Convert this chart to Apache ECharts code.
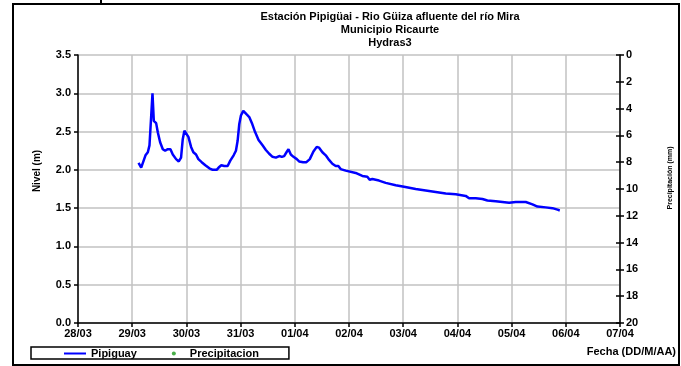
<!DOCTYPE html>
<html>
<head>
<meta charset="utf-8">
<script src="https://cdn.jsdelivr.net/npm/echarts@6/dist/echarts.min.js"></script>
<style>
  html, body { margin: 0; padding: 0; background: #fff; }
  #chart { width: 681px; height: 366px; }
</style>
</head>
<body>
<div id="chart"></div>
<script>
// Hydras3 station readings, Pipigüai (Río Güiza)
var YEAR = 2012;
var times = [
  '03-29 02:48','03-29 03:59','03-29 04:52','03-29 05:53','03-29 06:55','03-29 07:39',
  '03-29 08:23','03-29 08:59','03-29 09:34','03-29 10:36','03-29 11:20','03-29 12:22',
  '03-29 13:33','03-29 14:35','03-29 15:45','03-29 16:56','03-29 17:58','03-29 19:26',
  '03-29 20:37','03-29 21:38','03-29 22:23','03-29 23:07','03-29 23:51','03-30 00:53',
  '03-30 02:04','03-30 03:05','03-30 04:16','03-30 05:18','03-30 06:46','03-30 08:23',
  '03-30 10:10','03-30 11:38','03-30 13:24','03-30 14:17','03-30 15:28','03-30 16:47',
  '03-30 18:16','03-30 19:26','03-30 20:55','03-30 21:56','03-30 22:41','03-30 23:25',
  '03-31 00:09','03-31 01:11','03-31 02:04','03-31 02:48','03-31 03:50','03-31 05:01',
  '03-31 06:20','03-31 07:57','03-31 09:43','03-31 11:11','03-31 12:40','03-31 14:08',
  '03-31 15:37','03-31 17:05','03-31 18:16','03-31 19:17','03-31 20:19','03-31 21:12',
  '03-31 22:14','03-31 23:25','04-01 00:53','04-01 01:55','04-01 03:41','04-01 05:09',
  '04-01 06:38','04-01 08:15','04-01 09:43','04-01 10:45','04-01 12:13','04-01 13:42',
  '04-01 15:10','04-01 16:38','04-01 18:07','04-01 19:17','04-01 20:19','04-01 22:32',
  '04-02 02:57','04-02 05:54','04-02 08:07','04-02 09:09','04-02 10:20','04-02 13:17',
  '04-02 16:15','04-02 20:41','04-03 00:22','04-03 01:06','04-03 05:32','04-03 09:58',
  '04-03 14:24','04-03 18:50','04-03 23:16','04-04 03:41','04-04 05:10','04-04 08:07',
  '04-04 11:05','04-04 13:17','04-04 16:59','04-04 19:56','04-04 22:53','04-05 01:51',
  '04-05 06:17','04-05 09:14','04-05 11:27','04-05 15:08','04-05 18:05','04-05 20:19',
  '04-05 21:20'
];
var nivel = [
  2.09,2.03,2.05,2.19,2.23,2.32,
  2.69,3.00,2.64,2.61,2.49,2.36,
  2.27,2.25,2.27,2.27,2.20,2.14,
  2.11,2.16,2.40,2.51,2.53,2.43,
  2.30,2.23,2.20,2.14,2.10,2.06,
  2.02,2.00,2.00,2.03,2.06,2.05,
  2.05,2.12,2.19,2.25,2.38,2.60,
  2.71,2.77,2.78,2.72,2.69,2.61,
  2.50,2.39,2.32,2.26,2.21,2.17,
  2.16,2.18,2.17,2.18,2.23,2.27,
  2.20,2.17,2.14,2.11,2.10,2.10,
  2.14,2.24,2.30,2.29,2.23,2.19,
  2.13,2.08,2.05,2.05,2.01,1.99,
  1.96,1.92,1.91,1.87,1.88,1.86,
  1.83,1.80,1.78,1.77,1.75,1.73,
  1.71,1.69,1.68,1.66,1.63,1.63,
  1.62,1.60,1.59,1.58,1.57,1.58,
  1.58,1.55,1.52,1.51,1.50,1.48,
  1.47
];
// No rainfall was logged in this period
var precipitacion = [];

var titleLines = ['Estación Pipigüai - Rio Güiza afluente del río Mira', 'Municipio Ricaurte', 'Hydras3'];
var seriesNames = ['Pipiguay', 'Precipitacion'];
var xStart = '03-28', xEnd = '04-07';
var levelMin = 0, levelMax = 3.5, levelStep = 0.5;
var rainMin = 0, rainMax = 20, rainStep = 2;

var DAY = 86400000;
function toMs(s) {
  var md = s.split(' ')[0].split('-');
  var hm = (s.split(' ')[1] || '00:00').split(':');
  return Date.UTC(YEAR, +md[0] - 1, +md[1], +hm[0], +hm[1]);
}
function pad(n) { return (n < 10 ? '0' : '') + n; }

var levelData = times.map(function (t, i) { return [toMs(t), nivel[i]]; });

var FONT = 'Liberation Sans, Arial, sans-serif';
var labelStyle = { color: '#000', fontFamily: FONT, fontSize: 11, fontWeight: 'bold' };

var chart = echarts.init(document.getElementById('chart'), null, { renderer: 'canvas' });
chart.setOption({
  animation: false,
  backgroundColor: '#fff',
  grid: { left: 78, right: 61, top: 55, bottom: 43, containLabel: false },
  xAxis: {
    type: 'value',
    min: toMs(xStart),
    max: toMs(xEnd),
    interval: DAY,
    axisLine: { lineStyle: { color: '#000', width: 1.5 } },
    axisTick: { show: true, length: 4, lineStyle: { color: '#000', width: 1.5 } },
    axisLabel: Object.assign({
      margin: 5,
      formatter: function (v) {
        var d = new Date(v);
        return pad(d.getUTCDate()) + '/' + pad(d.getUTCMonth() + 1);
      }
    }, labelStyle),
    splitLine: { show: true, lineStyle: { color: '#c2c2c2', width: 1.5 } }
  },
  yAxis: [
    {
      type: 'value',
      min: levelMin, max: levelMax, interval: levelStep,
      position: 'left',
      axisLine: { show: true, lineStyle: { color: '#000', width: 1.5 } },
      axisTick: { show: true, length: 4, lineStyle: { color: '#000', width: 1.5 } },
      axisLabel: Object.assign({ margin: 7, formatter: function (v) { return v.toFixed(1); } }, labelStyle),
      splitLine: { show: true, lineStyle: { color: '#c2c2c2', width: 1.5 } }
    },
    {
      type: 'value',
      min: rainMin, max: rainMax, interval: rainStep,
      inverse: true,
      position: 'right',
      axisLine: { show: true, lineStyle: { color: '#000', width: 1.5 } },
      axisTick: { show: true, length: 4, lineStyle: { color: '#000', width: 1.5 } },
      axisLabel: Object.assign({ margin: 6 }, labelStyle),
      splitLine: { show: false }
    },
    {
      // inner half of the right-hand tick marks
      type: 'value',
      min: rainMin, max: rainMax, interval: rainStep,
      inverse: true,
      position: 'right',
      axisLine: { show: false },
      axisTick: { show: true, inside: true, length: 4, lineStyle: { color: '#000', width: 1.5 } },
      axisLabel: { show: false },
      splitLine: { show: false }
    }
  ],
  legend: {
    left: 31,
    top: 347,
    orient: 'horizontal',
    padding: [1, 30, 0, 32],
    itemGap: 35,
    itemWidth: 22,
    itemHeight: 4,
    borderColor: '#000',
    borderWidth: 1.5,
    textStyle: { color: '#000', fontFamily: FONT, fontSize: 11, fontWeight: 'bold' },
    data: [
      { name: seriesNames[0], itemStyle: { opacity: 0 } },
      { name: seriesNames[1] }
    ]
  },
  series: [
    {
      name: seriesNames[0],
      type: 'line',
      yAxisIndex: 0,
      data: levelData,
      showSymbol: false,
      symbol: 'none',
      lineStyle: { color: '#0000ff', width: 2.5 },
      itemStyle: { color: '#0000ff' }
    },
    {
      name: seriesNames[1],
      type: 'scatter',
      yAxisIndex: 1,
      data: precipitacion,
      symbol: 'circle',
      symbolSize: 4,
      itemStyle: { color: '#1a9a1a' }
    }
  ],
  graphic: [
    { type: 'rect', shape: { x: 13, y: 4, width: 666, height: 361 }, style: { fill: 'none', stroke: '#000', lineWidth: 2 }, silent: true },
    { type: 'line', shape: { x1: 101, y1: 0, x2: 101, y2: 4 }, style: { stroke: '#000', lineWidth: 2 }, silent: true },
    { type: 'text', x: 390, y: 10, style: { text: titleLines.join('\n'), textAlign: 'center', fill: '#000', font: 'bold 11px ' + FONT, lineHeight: 13 } },
    { type: 'text', x: 37, y: 171, rotation: Math.PI / 2, style: { text: 'Nivel (m)', textAlign: 'center', textVerticalAlign: 'middle', fill: '#000', font: 'bold 10px ' + FONT } },
    { type: 'text', x: 670, y: 178, rotation: Math.PI / 2, style: { text: 'Precipitación (mm)', textAlign: 'center', textVerticalAlign: 'middle', fill: '#000', font: 'bold 7px ' + FONT } },
    { type: 'text', x: 676, y: 352, style: { text: 'Fecha (DD/M/AA)', textAlign: 'right', textVerticalAlign: 'middle', fill: '#000', font: 'bold 11px ' + FONT } }
  ]
});
</script>
</body>
</html>
